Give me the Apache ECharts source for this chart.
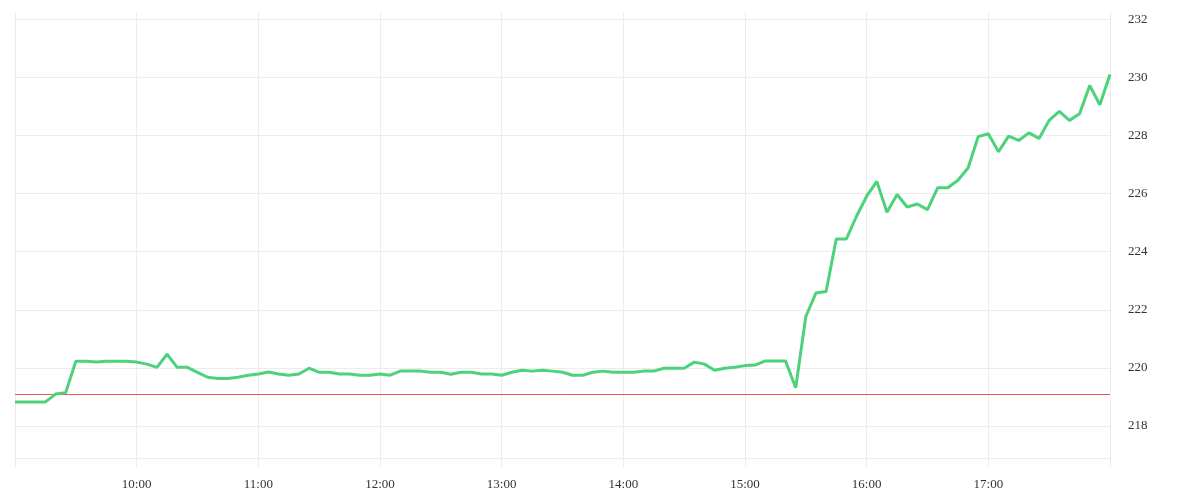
<!DOCTYPE html>
<html>
<head>
<meta charset="utf-8">
<script src="https://cdn.jsdelivr.net/npm/echarts@6/dist/echarts.min.js"></script>
<style>html,body{margin:0;padding:0;background:#fff}#c{width:1200px;height:500px}</style>
</head>
<body>
<div id="c"></div>
<script>
// time categories 09:00 .. 18:00 every 5 minutes
const times = [];
for (let h = 9; h <= 18; h++) {
  for (let m = 0; m < 60; m += 5) {
    if (h === 18 && m > 0) break;
    times.push(String(h).padStart(2, '0') + ':' + String(m).padStart(2, '0'));
  }
}
const prices = [
  218.83, 218.83, 218.83, 218.83, 219.10, 219.15, 220.23, 220.23, 220.20, 220.23, 220.23, 220.23,
  220.20, 220.13, 220.02, 220.47, 220.02, 220.02, 219.85, 219.68, 219.64, 219.64, 219.68, 219.75,
  219.79, 219.86, 219.79, 219.75, 219.79, 219.99, 219.85, 219.85, 219.79, 219.79, 219.75, 219.75,
  219.79, 219.75, 219.89, 219.89, 219.89, 219.85, 219.85, 219.78, 219.85, 219.85, 219.79, 219.79,
  219.75, 219.85, 219.92, 219.89, 219.92, 219.89, 219.85, 219.75, 219.75, 219.85, 219.89, 219.85,
  219.85, 219.85, 219.89, 219.89, 219.99, 219.99, 219.99, 220.20, 220.13, 219.92, 219.99, 220.02,
  220.08, 220.10, 220.24, 220.24, 220.24, 219.32, 221.77, 222.58, 222.63, 224.44, 224.44, 225.22,
  225.91, 226.42, 225.36, 225.97, 225.54, 225.64, 225.45, 226.20, 226.20, 226.46, 226.88, 227.96,
  228.06, 227.44, 227.98, 227.83, 228.09, 227.90, 228.52, 228.83, 228.52, 228.75, 229.72, 229.06,
  230.10
];
const prevClose = 219.10;
const yTicks = [218, 220, 222, 224, 226, 228, 230, 232];

const chart = echarts.init(document.getElementById('c'));
const font = 'Liberation Serif';
const gridColor = '#ececec';
chart.setOption({
  animation: false,
  grid: { left: 15, right: 90, top: 12, bottom: 42 },
  xAxis: {
    type: 'category',
    data: times,
    boundaryGap: false,
    axisLine: { show: true, lineStyle: { color: gridColor } },
    axisTick: { show: true, interval: 11, length: 9, lineStyle: { color: gridColor } },
    axisLabel: {
      interval: function (i) { return i % 12 === 0 && i !== 0 && i !== times.length - 1; },
      color: '#333', fontFamily: font, fontSize: 13, margin: 20
    },
    splitLine: { show: true, interval: 11, lineStyle: { color: gridColor } }
  },
  yAxis: {
    type: 'value',
    position: 'right',
    min: 216.9,
    max: 232.25,
    axisLine: { show: false },
    axisTick: { show: false, customValues: yTicks },
    axisLabel: {
      customValues: yTicks,
      color: '#333', fontFamily: font, fontSize: 13, margin: 18,
      padding: [4, 0, 0, 0]
    },
    splitLine: { show: false }
  },
  series: [{
    type: 'line',
    data: [],
    z: 1,
    markLine: {
      silent: true,
      symbol: 'none',
      label: { show: false },
      lineStyle: { color: gridColor, width: 1, type: 'solid' },
      data: yTicks.map(function (v) { return { yAxis: v }; })
    }
  }, {
    type: 'line',
    data: [],
    z: 2,
    markLine: {
      silent: true,
      symbol: 'none',
      label: { show: false },
      lineStyle: { color: '#f0555a', width: 1, type: 'solid' },
      data: [{ yAxis: prevClose }]
    }
  }, {
    type: 'line',
    data: prices,
    z: 5,
    symbol: 'none',
    lineStyle: { color: '#4cd27a', width: 3 },
    itemStyle: { color: '#4cd27a' }
  }]
});
</script>
</body>
</html>
